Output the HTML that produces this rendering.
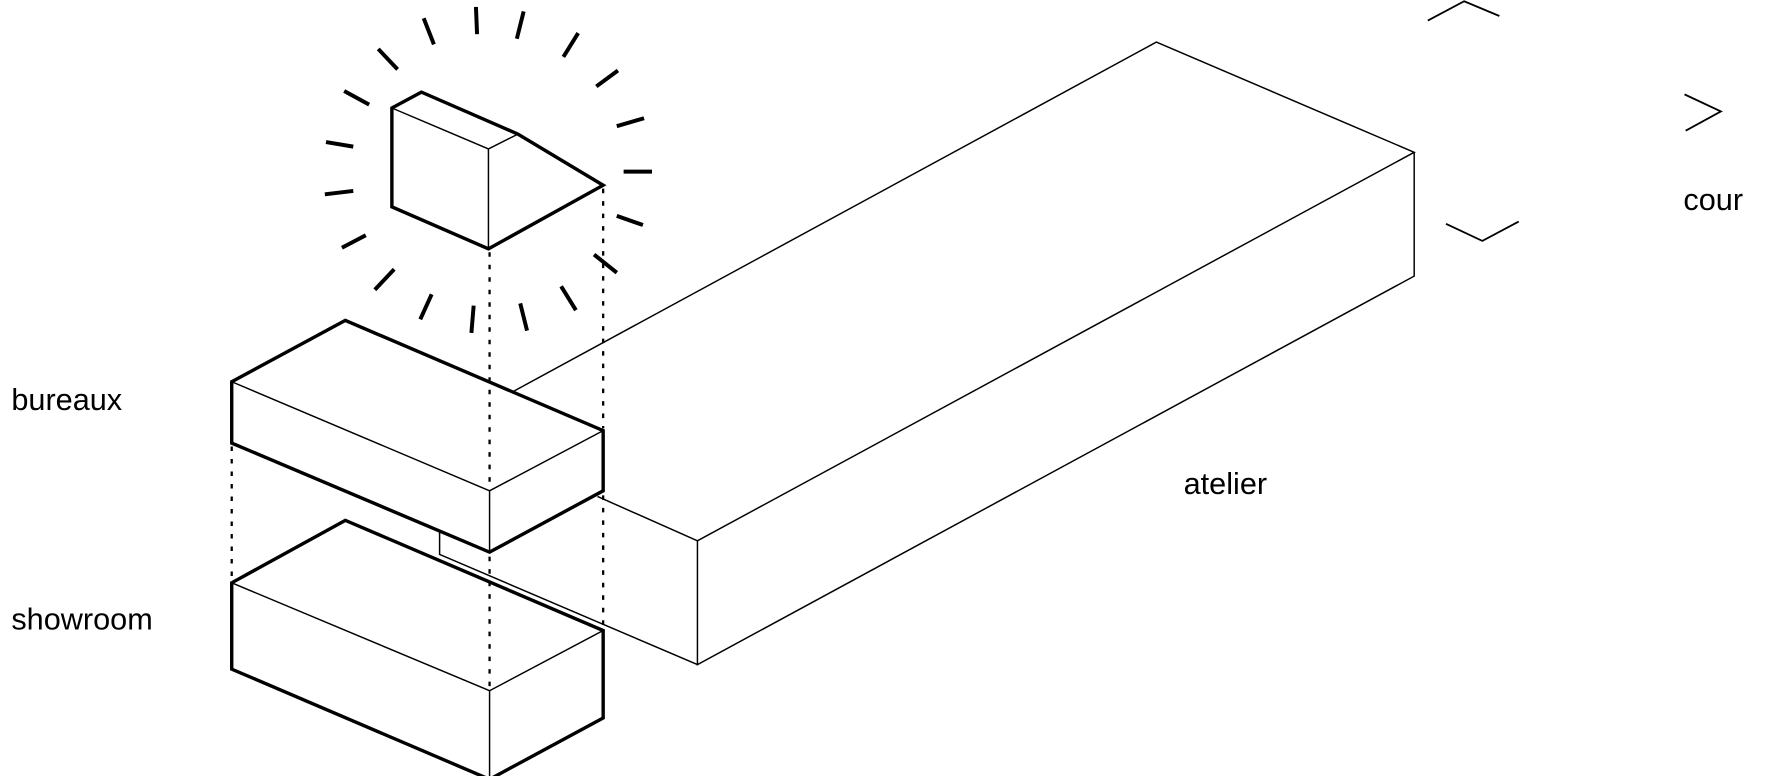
<!DOCTYPE html>
<html><head><meta charset="utf-8"><style>
html,body{margin:0;padding:0;background:#fff;}
svg{display:block;}
text{font-family:"Liberation Sans",sans-serif;font-size:27px;fill:#000;}
</style></head><body>
<svg width="1772" height="776" viewBox="0 0 1560 683" xmlns="http://www.w3.org/2000/svg">
<g fill="none" stroke="#000" stroke-linejoin="miter">
<!-- atelier -->
<g stroke-width="1.3">
<polyline points="451,345 1018,37 1245,134 614,476 526,437"/>
<polyline points="1245,134 1245,243 614,585 614,476"/>
<polyline points="387,466 387,488 614,585"/>
</g>
<!-- bureaux -->
<polygon points="204,336 304,282 531,379 531,432 431,486 204,390" fill="#fff" stroke-width="3"/>
<polyline points="204,336 431,432 531,379" stroke-width="1.3"/>
<!-- dotted -->
<g stroke-width="2" stroke-dasharray="4,7">
<line x1="431" y1="222" x2="431" y2="430"/>
<line x1="431" y1="490" x2="431" y2="606"/>
<line x1="531" y1="166" x2="531" y2="377"/>
<line x1="531" y1="436" x2="531" y2="553"/>
<line x1="204" y1="393" x2="204" y2="511"/>
</g>
<line x1="431" y1="432" x2="431" y2="486" stroke-width="1.3"/>
<!-- showroom -->
<polygon points="204,513 304,458 531,555 531,632 431,686 204,589" stroke-width="3"/>
<polyline points="204,513 431,608 531,555" stroke-width="1.3"/>
<line x1="431" y1="608" x2="431" y2="686" stroke-width="1.3"/>
<!-- small house -->
<polygon points="345,95 371,81 456,118 531,163 430,219 345,182" fill="#fff" stroke-width="3"/>
<polyline points="345,95 430,131 456,118" stroke-width="1.3"/>
<line x1="430" y1="131" x2="430" y2="219" stroke-width="1.3"/>
<!-- rays -->
<g stroke-width="3.5">
<line x1="419" y1="6" x2="420" y2="30"/>
<line x1="461" y1="10" x2="455" y2="34"/>
<line x1="509" y1="29" x2="496" y2="50"/>
<line x1="544" y1="62" x2="525" y2="76"/>
<line x1="567" y1="104" x2="543" y2="111"/>
<line x1="574" y1="151" x2="549" y2="151"/>
<line x1="566" y1="198" x2="543" y2="190"/>
<line x1="543" y1="240" x2="523" y2="224"/>
<line x1="507" y1="273" x2="494" y2="252"/>
<line x1="464" y1="291" x2="458" y2="267"/>
<line x1="415" y1="293" x2="417" y2="269"/>
<line x1="370" y1="281" x2="380" y2="259"/>
<line x1="330" y1="255" x2="347" y2="237"/>
<line x1="301" y1="218" x2="322" y2="207"/>
<line x1="286" y1="171" x2="311" y2="168"/>
<line x1="287" y1="125" x2="311" y2="129"/>
<line x1="303" y1="80" x2="325" y2="92"/>
<line x1="333" y1="43" x2="350" y2="61"/>
<line x1="373" y1="16" x2="382" y2="39"/>
</g>
<!-- cour arrows -->
<g stroke-width="1.6">
<polyline points="1257,18 1289,1 1320,14"/>
<polyline points="1483,83 1515,98 1484,115"/>
<polyline points="1273,197 1305,212 1337,195"/>
</g>
</g>
<text x="10" y="361">bureaux</text>
<text x="10" y="554">showroom</text>
<text x="1042" y="435">atelier</text>
<text x="1482" y="185">cour</text>
</svg>
</body></html>
